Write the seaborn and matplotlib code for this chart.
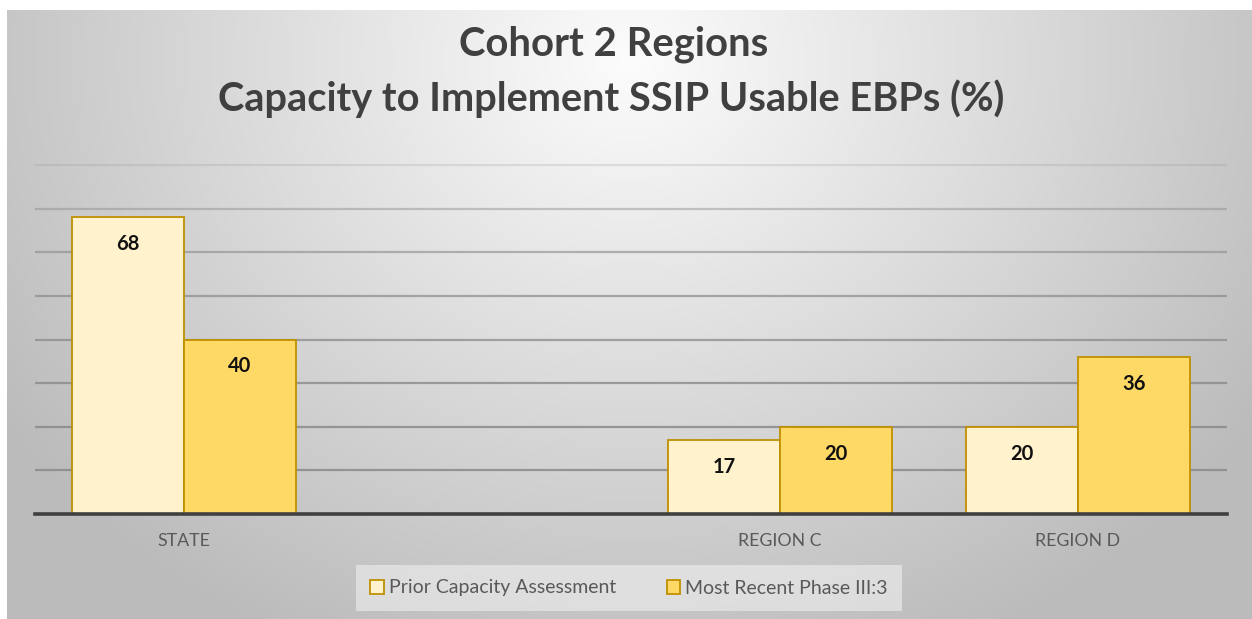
import numpy as np
import pandas as pd
import matplotlib
matplotlib.use("Agg")
import matplotlib.pyplot as plt
import seaborn as sns

# ---- data ----
categories = ["STATE", "", "REGION C", "REGION D"]
series_names = ["Prior Capacity Assessment", "Most Recent Phase III:3"]
prior_values = [68, np.nan, 17, 20]
recent_values = [40, np.nan, 20, 36]
title_line1 = "Cohort 2 Regions"
title_line2 = "Capacity to Implement SSIP Usable EBPs (%)"

df = pd.DataFrame({
    "category": categories * 2,
    "series": [series_names[0]] * 4 + [series_names[1]] * 4,
    "value": prior_values + recent_values,
})

sns.set_theme(style="white")
plt.rcParams["font.family"] = ["Lato", "DejaVu Sans"]

W, H = 1252, 619
fig = plt.figure(figsize=(W / 100, H / 100), dpi=100)
fig.patch.set_facecolor("white")

# ---- gradient background ----
bg = fig.add_axes([7 / W, 0, 1 - 7 / W, 1 - 10 / H], zorder=-10)
yy, xx = np.mgrid[0:609, 0:1245]
dx = (xx + 7 - 630) / 700.0
dy = (yy + 10 - 60) / 600.0
r = np.sqrt(dx ** 2 + dy ** 2)
r = np.minimum(r, 1.08)
g = (252 - 60 * r) / 255.0
img = np.dstack([g, g, g])
bg.imshow(img, aspect="auto", interpolation="bilinear")
bg.set_axis_off()

# ---- main axes ----
ytop = 80.3
ax = fig.add_axes([35 / W, 1 - 514 / H, 1192 / W, (349 / H) * ytop / 80])
ax.patch.set_alpha(0)

palette = {series_names[0]: "#FFF2CC", series_names[1]: "#FFD966"}
sns.barplot(data=df, x="category", y="value", hue="series", order=categories,
            hue_order=series_names, palette=palette, width=0.75, gap=0,
            edgecolor="#BF9000", linewidth=1.3, saturation=1, ax=ax,
            legend=False, zorder=3)

ax.set_ylim(0, ytop)
ax.set_xlim(-0.5, 3.5)
ax.set_yticks(np.arange(10, 81, 10))
ax.set_yticklabels([])
ax.yaxis.grid(True, color="#8A8A8A", linewidth=1.6, zorder=0)
ax.xaxis.grid(False)
ax.set_axisbelow(True)
grid_alphas = [0.85, 0.85, 0.8, 0.75, 0.7, 0.6, 0.45, 0.2]
for line, a in zip(ax.get_ygridlines(), grid_alphas):
    line.set_alpha(a)
for s in ["top", "left", "right"]:
    ax.spines[s].set_visible(False)
ax.spines["bottom"].set_color("#404040")
ax.spines["bottom"].set_linewidth(2.6)
ax.spines["bottom"].set_zorder(5)
ax.tick_params(axis="x", length=0, pad=14, labelsize=12.8, labelcolor="#595959")
ax.tick_params(axis="y", length=0)
ax.set_xlabel("")
ax.set_ylabel("")

# value labels inside the top of bars
for cont in ax.containers:
    for bar in cont:
        h = bar.get_height()
        if np.isnan(h) or h == 0:
            continue
        ax.annotate(f"{h:.0f}", xy=(bar.get_x() + bar.get_width() / 2, h),
                    xytext=(0, -27), textcoords="offset pixels",
                    ha="center", va="center", fontsize=14.5, fontweight="bold",
                    color="#111111", zorder=6)

# ---- titles ----
fig.text(614 / W, 1 - 44 / H, title_line1, ha="center", va="center",
         fontsize=28.8, fontweight="bold", color="#404040")
fig.text(611 / W, 1 - 99 / H, title_line2, ha="center", va="center",
         fontsize=28.6, fontweight="bold", color="#404040")

# ---- legend ----
from matplotlib.patches import Patch
handles = [Patch(facecolor=palette[n], edgecolor="#BF9000", linewidth=1.3) for n in series_names]
leg = fig.legend(handles, series_names, loc="center", bbox_to_anchor=(629 / W, 1 - 588 / H),
                 ncol=2, frameon=True, fancybox=False, fontsize=14,
                 handlelength=0.7, handleheight=0.7, handletextpad=0.25,
                 columnspacing=2.6, borderpad=0.75, borderaxespad=0,
                 labelcolor="#595959")
leg.get_frame().set_facecolor("#ECECEC")
leg.get_frame().set_alpha(0.65)
leg.get_frame().set_edgecolor("none")

fig.savefig("out.png", dpi=100, facecolor=fig.get_facecolor())
